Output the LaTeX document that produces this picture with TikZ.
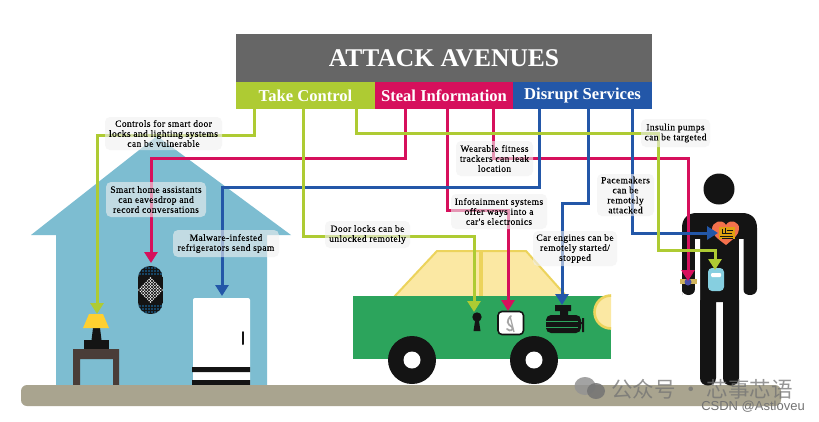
\documentclass[tikz,border=0pt]{standalone}
\usepackage{fontspec}
\setmainfont{Liberation Serif}
\newfontfamily\wmcjk{Noto Sans CJK SC}
\newfontfamily\wmsans{Liberation Sans}
\newfontfamily\labfont[LetterSpace=4,FakeBold=0.12]{Liberation Serif}
\usetikzlibrary{arrows.meta}
\definecolor{cgreen}{HTML}{AECB33}
\definecolor{cmag}{HTML}{D6105C}
\definecolor{cblue}{HTML}{2357A8}
\definecolor{chouse}{HTML}{7DBDD1}
\definecolor{cground}{HTML}{A9A48F}
\definecolor{ccar}{HTML}{2CA45C}
\definecolor{cglassf}{HTML}{FBE8A3}
\definecolor{cglass}{HTML}{ECD35C}
\definecolor{cblack}{HTML}{141414}
\definecolor{ctable}{HTML}{4A3D38}
\definecolor{cshade}{HTML}{FFD030}
\definecolor{cpump}{HTML}{86CFE0}
\definecolor{cband}{HTML}{D0B45C}
\definecolor{cheart}{HTML}{F4714C}
\definecolor{cchip}{HTML}{E0A010}
\definecolor{cdot}{HTML}{4A4FA8}
\tikzset{
  x=1pt,y=-1pt,
  glink/.style={draw=cgreen,line width=3pt,-{Triangle[length=11pt,width=13pt]}},
  mlink/.style={draw=cmag,line width=3pt,-{Triangle[length=11pt,width=13pt]}},
  blink/.style={draw=cblue,line width=3pt,-{Triangle[length=11pt,width=13pt]}},
  lab/.style={fill=gray!12,fill opacity=.6,text opacity=1,rounded corners=5pt,inner sep=0pt,align=center,
    font=\labfont\fontsize{9.5}{10}\selectfont,text=black},
  bar/.style={inner sep=0pt,minimum height=27pt,text=white,font=\fontsize{16.6}{18}\selectfont\bfseries},
}
\begin{document}
\begin{tikzpicture}
\useasboundingbox (0,0) rectangle (819,421);
\fill[white] (0,0) rectangle (819,421);
% header
\node[fill=black!60,inner sep=0pt,minimum width=416pt,minimum height=48pt,text=white,
  font=\fontsize{25.5}{30}\selectfont\bfseries] (title) at (444,58) {ATTACK AVENUES};
\node[bar,fill=cgreen,minimum width=139pt] (tc) at (305.5,95.5) {Take Control};
\node[bar,fill=cmag,minimum width=138pt] (si) at (444,95.5) {Steal Information};
\node[bar,fill=cblue,minimum width=139pt] (ds) at (582.5,95.5) {Disrupt Services};
% house
\fill[chouse] (157,136) -- (291,235) -- (267,235) -- (267,385) -- (56,385) -- (56,235) -- (31,235) -- cycle;
% lamp + table
\fill[ctable] (73,349) rectangle (119,359) (73,359) rectangle (80,385) (113,359) rectangle (119,385);
\fill[cblack] (84,340) rectangle (109,349);
\fill[cblack] (93,328) -- (100,328) -- (101.5,340) -- (91.5,340) -- cycle;
\fill[cshade] (89,314) -- (103,314) -- (109,328) -- (83,328) -- cycle;
% speaker
\begin{scope}
\clip[rounded corners=12pt] (138,266) rectangle (163,314);
\fill[cblack] (138,266) rectangle (163,314);
\foreach \r in {268,271,274,306,309,312}
  \foreach \c in {140,143,...,161}
    \fill[cblue!80!cyan] (\c,\r) circle[radius=.8pt];
\end{scope}
\foreach \i in {-4,...,4}
  \foreach \j in {-4,...,4}
    \fill[white] ({150.5+(\i+\j)*1.45},{290+(\j-\i)*1.5}) circle[radius=.8pt];
% fridge
\fill[white,rounded corners=2pt] (193,298) rectangle (250,390);
\fill[cblack] (192,367) rectangle (250,372) (192,380) rectangle (250,385);
\draw[cblack,line width=2pt,line cap=round] (243,332) -- (243,344);
% ground
\fill[cground,rounded corners=6pt] (21,385) rectangle (781,406);
% car
\fill[cglassf] (395,296) -- (437,252) -- (526,252) -- (566,296) -- cycle;
\draw[cglass,line width=2pt] (394,297) -- (437,251) -- (526,251) -- (567,297);
\draw[cglass,line width=4pt] (481,251) -- (481,296);
\fill[ccar] (353,296) rectangle (611,359);
\begin{scope}
\clip (580,290) rectangle (611,335);
\draw[cglass,fill=cglassf,line width=2.6pt] (611,312) circle[radius=16.5pt];
\end{scope}
\fill[cblack] (412,360) circle[radius=24pt] (534,360) circle[radius=24pt];
\fill[white] (412,360) circle[radius=8.5pt] (534,360) circle[radius=8.5pt];
% keyhole
\fill[cblack] (477,317) circle[radius=4.7pt];
\fill[cblack] (475.5,318) -- (478.5,318) -- (480.5,331) -- (473.5,331) -- cycle;
% infotainment
\draw[cblack,fill=white,line width=1.6pt,rounded corners=4pt] (498,311.5) rectangle (523.5,334.5);
\draw[gray!70,line width=1.8pt,line cap=round] (511,316) .. controls (506,321) and (507,324) .. (512,327) .. controls (514,330) and (510,332) .. (507,329);
\draw[gray!70,line width=1.3pt] (510,316) -- (514,332);
% engine
\fill[cblack] (555,305) rectangle (571,311) (560,311) rectangle (568,316);
\fill[cblack,rounded corners=5pt] (546,315) rectangle (581,333);
\fill[cblack] (582,318) rectangle (584,332) (580,322) rectangle (583,324);
\draw[ccar,line width=.9pt] (546,321) -- (578,321) (546,327) -- (578,327);
% person
\fill[cblack] (719,189) circle[radius=15.5pt];
\fill[cblack] (682,295) -- (682,228) .. controls (682,218) and (688,213) .. (697,213) -- (742,213) .. controls (751,213) and (757,218) .. (757,228) -- (757,289) .. controls (757,297) and (743,297) .. (743,289) -- (743,239) -- (739,239) -- (739,378) .. controls (739,388) and (723,388) .. (723,378) -- (723,302) -- (716,302) -- (716,378) .. controls (716,388) and (700,388) .. (700,378) -- (700,239) -- (695,239) -- (695,289) .. controls (695,297) and (682,297) .. (682,289) -- cycle;
\fill[white] (695,239) rectangle (700,300) (739,239) rectangle (743.5,300);
\fill[cheart] (726,245) .. controls (718,239) and (712,235) .. (712,229) .. controls (712,222) and (722,218) .. (726,225) .. controls (730,218) and (740,222) .. (739,229) .. controls (739,235) and (733,239) .. (726,245) -- cycle;
\fill[cchip] (719,227) rectangle (735,239);
\draw[cblack,line width=.7pt] (722,229) -- (722,233) -- (732,233) (725,227.5) -- (725,233) (720,236) -- (733,236) (727,230) -- (733,230) (722,238) -- (733,238);
\fill[cpump,rounded corners=4pt] (708,268) rectangle (724,291);
\fill[white,rounded corners=1pt] (711,273) rectangle (721,277);
\fill[cband] (680,279) rectangle (697,284);
\fill[cdot] (688,282) circle[radius=3.5pt];
% connector ends
\coordinate (lamp) at (97,314);
\coordinate (speaker) at (151,263);
\coordinate (fridge) at (222,296);
\coordinate (keyhole) at (474,312);
\coordinate (screen) at (508,311);
\coordinate (engine) at (562,305);
\coordinate (tracker) at (688,281);
\coordinate (pump) at (715,270);
\coordinate (heart) at (718,233);
% connectors
\draw[mlink] ([xshift=-39pt]si.south) -- (405,158) -- (151,158) -- (speaker);
\draw[mlink] ([xshift=3pt]si.south) -- (447,210) -- (508,210) -- (screen);
\draw[mlink] ([xshift=49pt]si.south) -- (493,158) -- (688,158) -- (tracker);
\draw[blink] ([xshift=-43.5pt]ds.south) -- (539,187) -- (222,187) -- (fridge);
\draw[blink] ([xshift=5.5pt]ds.south) -- (588,203) -- (562,203) -- (engine);
\draw[blink] ([xshift=50pt]ds.south) -- (632.5,233) -- (heart);
\draw[glink] ([xshift=-51.5pt]tc.south) -- (254,135) -- (97,135) -- (lamp);
\draw[glink] ([xshift=-2.5pt]tc.south) -- (303,236) -- (474,236) -- (keyhole);
\draw[glink] ([xshift=50.5pt]tc.south) -- (356,133) -- (658,133) -- (658,250) -- (715,250) -- (pump);
% labels
\node[lab,minimum width=117pt,minimum height=33pt] (l1) at (163.5,133.5) {Controls for smart door\\locks and lighting systems\\can be vulnerable};
\node[lab,minimum width=100pt,minimum height=35pt] (l2) at (156,199.5) {Smart home assistants\\can eavesdrop and\\record conversations};
\node[lab,minimum width=106pt,minimum height=27pt] (l3) at (226,243.5) {Malware-infested\\refrigerators send spam};
\node[lab,minimum width=85pt,minimum height=27pt] (l4) at (367.5,234.5) {Door locks can be\\unlocked remotely};
\node[lab,minimum width=77pt,minimum height=35pt] (l5) at (494.5,158.5) {Wearable fitness\\trackers can leak\\location};
\node[lab,minimum width=96pt,minimum height=35pt] (l6) at (499,211.5) {Infotainment systems\\offer ways into a\\car's electronics};
\node[lab,minimum width=84pt,minimum height=35pt] (l7) at (575,248.5) {Car engines can be\\remotely started/\\stopped};
\node[lab,minimum width=57pt,minimum height=42pt] (l8) at (625.5,195) {Pacemakers\\can be\\remotely\\attacked};
\node[lab,minimum width=69pt,minimum height=28pt] (l9) at (675.5,133) {Insulin pumps\\can be targeted};
% watermark
\fill[gray!85,opacity=.85] (585,386) ellipse[x radius=10.5pt,y radius=9pt];
\fill[black!55,opacity=.85] (596,391) ellipse[x radius=9pt,y radius=8pt];
\node[text=black!55,text opacity=.75,inner sep=0pt,font=\wmcjk\fontsize{21.5}{24}\selectfont] (wm) at (702,389) {公众号 · 芯事芯语};
\node[text=black!55,inner sep=0pt,font=\wmsans\fontsize{13}{15}\selectfont] (csdn) at (753,406.5) {CSDN @Astloveu};
\end{tikzpicture}
\end{document}
